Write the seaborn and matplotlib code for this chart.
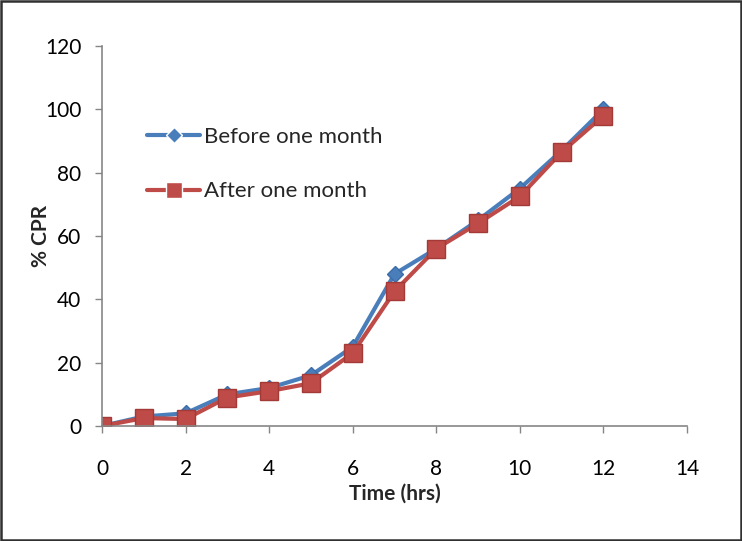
import numpy as np
import pandas as pd
import matplotlib
matplotlib.use("Agg")
import matplotlib.pyplot as plt
import seaborn as sns

# --- Data ---
time_hrs = [0, 1, 2, 3, 4, 5, 6, 7, 8, 9, 10, 11, 12]
before_one_month = [0, 3, 4, 10, 12, 16, 25, 48, 56, 65, 75, 87, 100]
after_one_month = [0, 2.5, 2.2, 9, 11, 13.5, 23, 42.5, 56, 64, 72.5, 86.5, 98]
series_names = ["Before one month", "After one month"]

df = pd.concat([
    pd.DataFrame({"Time (hrs)": time_hrs, "% CPR": before_one_month, "series": series_names[0]}),
    pd.DataFrame({"Time (hrs)": time_hrs, "% CPR": after_one_month, "series": series_names[1]}),
])

sns.set_style("white")
plt.rcParams["font.family"] = ["Lato", "DejaVu Sans"]

W, H = 742, 541
fig = plt.figure(figsize=(W / 100, H / 100), dpi=100)
# axes box in pixels: x from 102 to 687, y from 46 (top) to 426 (bottom)
ax = fig.add_axes([102 / W, 1 - 426 / H, (687 - 102) / W, (426 - 46) / H])

palette = {series_names[0]: "#4A7EBB", series_names[1]: "#BE4B48"}
sns.lineplot(data=df, x="Time (hrs)", y="% CPR", hue="series", style="series",
             markers={series_names[0]: "D", series_names[1]: "s"},
             dashes=False, palette=palette, linewidth=3,
             markersize=13, markeredgewidth=1, ax=ax, legend=True)

lines = ax.get_lines()
lines[0].set_markersize(8)
lines[0].set_markeredgecolor("#3A6DAA")
lines[1].set_markeredgecolor("#A33A37")

ax.set_xlim(0, 14)
ax.set_ylim(0, 120)
ax.set_xticks(range(0, 15, 2))
ax.set_yticks(range(0, 121, 20))
ax.tick_params(axis="both", labelsize=15, colors="#868686", labelcolor="black",
               length=5, direction="out", bottom=True, left=True, width=1)
ax.tick_params(axis="x", pad=19)
ax.tick_params(axis="y", pad=10)
for s in ["top", "right"]:
    ax.spines[s].set_visible(False)
for s in ["left", "bottom"]:
    ax.spines[s].set_color("#868686")
    ax.spines[s].set_linewidth(1.2)
ax.set_xlabel("Time (hrs)", fontsize=15, fontweight="bold", labelpad=3)
ax.set_ylabel("% CPR", fontsize=15, fontweight="bold")
ax.yaxis.set_label_coords(-0.088, 0.5)

handles, labels = ax.get_legend_handles_labels()
for h in handles:
    h.set_markersize(12 if h.get_marker() == "s" else 8)
ax.legend(handles, labels, loc="upper left",
          bbox_to_anchor=(147 / W, 1 - 127 / H), bbox_transform=fig.transFigure,
          frameon=False, fontsize=16, handlelength=2.4, labelspacing=1.55,
          handletextpad=0.15, borderpad=0, borderaxespad=0)

# outer chart border
fig.patches.append(plt.Rectangle((0.002, 0.002), 0.996, 0.996, transform=fig.transFigure,
                                 fill=False, edgecolor="#303030", linewidth=1.8))

fig.savefig("out.png", dpi=100)
